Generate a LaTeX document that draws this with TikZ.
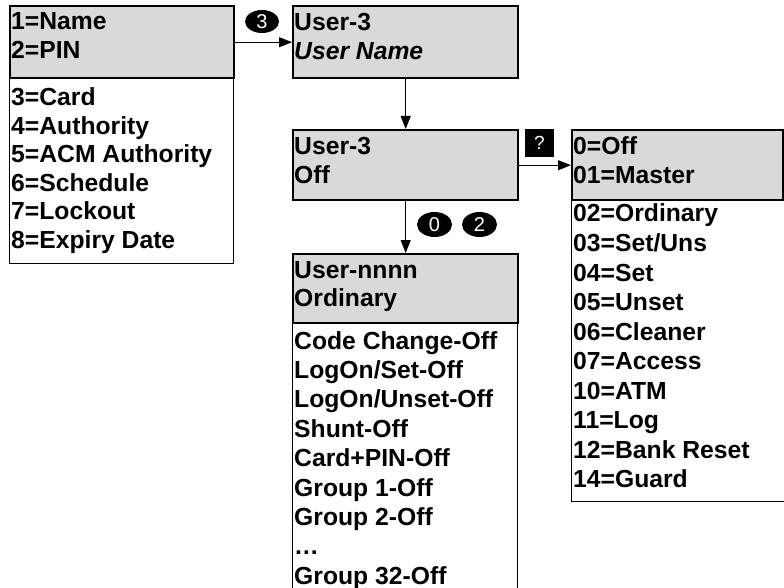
\documentclass[tikz,border=0pt]{standalone}
\usepackage{fontspec}
\setmainfont{Liberation Sans}
\usetikzlibrary{shapes.geometric,arrows.meta}
\begin{document}
\begin{tikzpicture}[x=1pt,y=-1pt,
  headbox/.style={draw,line width=2.4pt,fill=black!15,anchor=north west,inner sep=0pt},
  listbox/.style={draw,line width=1.1pt,fill=white,anchor=north west,inner sep=0pt},
  txt/.style={anchor=base west,inner sep=0pt,font=\fontsize{24.7}{28}\selectfont\bfseries},
  badge/.style={ellipse,fill=black,text=white,inner sep=0pt,font=\fontsize{20}{20}\selectfont},
  qbox/.style={rectangle,fill=black,text=white,inner sep=0pt,minimum width=29pt,minimum height=28pt,font=\fontsize{19}{19}\selectfont},
  conn/.style={line width=1pt,-{Triangle[length=13pt,width=10pt]}}]
\clip (0,0) rectangle (784,588);
\fill[white] (0,0) rectangle (784,588);
% lists
\node[listbox,minimum width=224pt,minimum height=186pt] (AL) at (9,77) {};
\node[listbox,minimum width=225pt,minimum height=290pt] (DL) at (292,322) {};
\node[listbox,minimum width=230pt,minimum height=302pt] (EL) at (571,199) {};
% heads
\node[headbox,minimum width=224pt,minimum height=72pt] (A) at (9,5) {};
\node[headbox,minimum width=225pt,minimum height=72pt] (B) at (292,5) {};
\node[headbox,minimum width=225pt,minimum height=70pt] (C) at (292,129) {};
\node[headbox,minimum width=225pt,minimum height=69pt] (D) at (292,253) {};
\node[headbox,minimum width=211pt,minimum height=70pt] (E) at (571,129) {};
% head texts
\node[txt] (a1) at (11,30) {1=Name};
\node[txt] (a2) at (11,59) {2=PIN};
\node[txt] (b1) at (294,31) {User-3};
\node[txt] (b2) at (294,60) {\itshape User Name};
\node[txt] (c1) at (294,155) {User-3};
\node[txt] (c2) at (294,184) {Off};
\node[txt] (d1) at (294,278) {User-nnnn};
\node[txt] (d2) at (294,306) {Ordinary};
\node[txt] (e1) at (573,155) {0=Off};
\node[txt] (e2) at (573,184) {01=Master};
% list A
\node[txt] (al1) at (11,106) {3=Card};
\node[txt] (al2) at (11,134.4) {4=Authority};
\node[txt] (al3) at (11,162.8) {5=ACM Authority};
\node[txt] (al4) at (11,191.2) {6=Schedule};
\node[txt] (al5) at (11,219.6) {7=Lockout};
\node[txt] (al6) at (11,248) {8=Expiry Date};
% list D
\node[txt] (dl1) at (294,349) {Code Change-Off};
\node[txt] (dl2) at (294,378.4) {LogOn/Set-Off};
\node[txt] (dl3) at (294,407.8) {LogOn/Unset-Off};
\node[txt] (dl4) at (294,437.2) {Shunt-Off};
\node[txt] (dl5) at (294,466.6) {Card+PIN-Off};
\node[txt] (dl6) at (294,496) {Group 1-Off};
\node[txt] (dl7) at (294,525.4) {Group 2-Off};
\node[txt] (dl8) at (294,554.8) {…};
\node[txt] (dl9) at (294,584.2) {Group 32-Off};
% list E
\node[txt] (el1) at (573,222) {02=Ordinary};
\node[txt] (el2) at (573,251.5) {03=Set/Uns};
\node[txt] (el3) at (573,281) {04=Set};
\node[txt] (el4) at (573,310.5) {05=Unset};
\node[txt] (el5) at (573,340) {06=Cleaner};
\node[txt] (el6) at (573,369.5) {07=Access};
\node[txt] (el7) at (573,399) {10=ATM};
\node[txt] (el8) at (573,428.5) {11=Log};
\node[txt] (el9) at (573,458) {12=Bank Reset};
\node[txt] (el10) at (573,487.5) {14=Guard};
% connectors
\draw[conn] (A.east) -- (B.west);
\draw[conn] (B.south) -- (C.north);
\draw[conn] (C.east) -- (E.west);
\draw[conn] (C.south) -- (D.north);
% badges
\node[badge,minimum width=34pt,minimum height=23pt] (k3) at (262,21.5) {3};
\node[qbox] (kq) at (539.5,143) {?};
\node[badge,minimum width=35pt,minimum height=25pt] (k0) at (434.5,224.5) {0};
\node[badge,minimum width=35pt,minimum height=25pt] (k2) at (479.5,224.5) {2};
\end{tikzpicture}
\end{document}
